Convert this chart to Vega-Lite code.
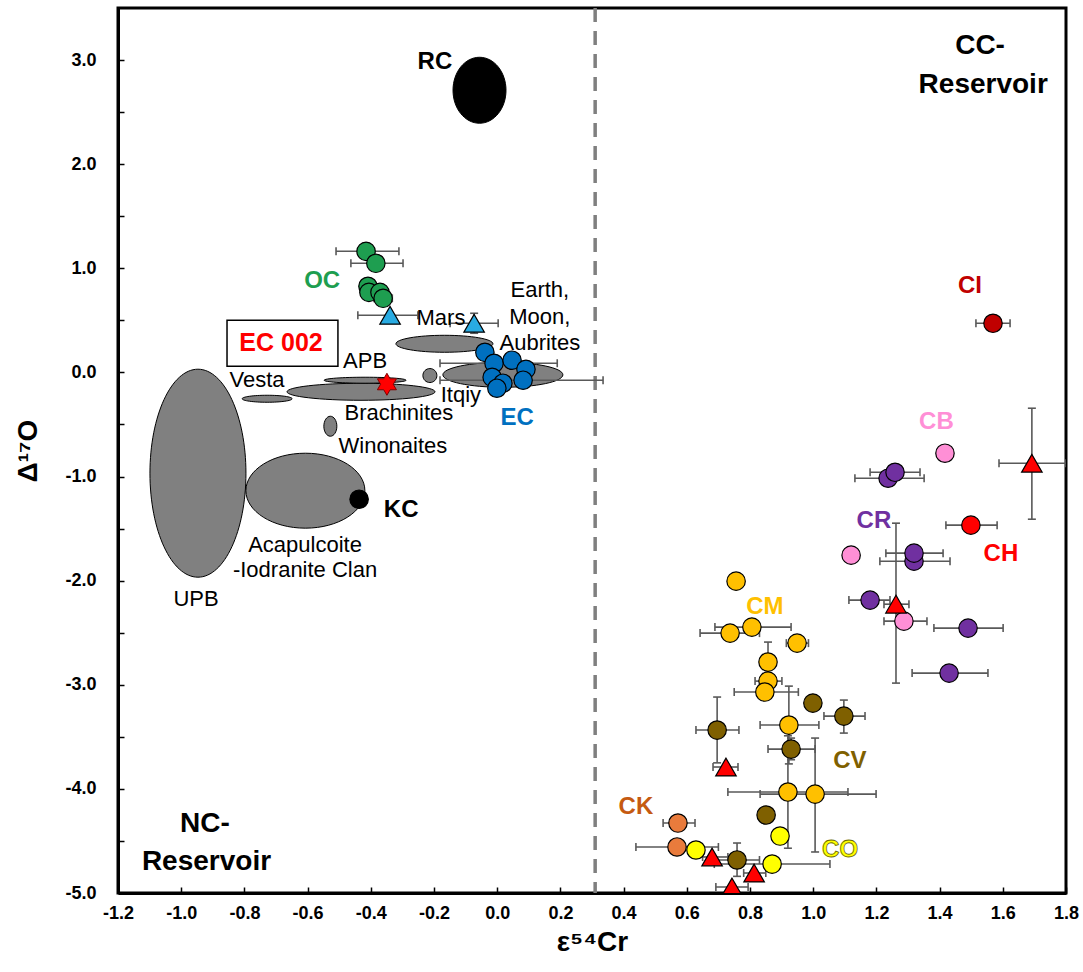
{
"$schema":"https://vega.github.io/schema/vega-lite/v6.json",
"autosize":{"type":"none"},
"width":948,"height":885,
"padding":{"left":118,"top":8,"right":17,"bottom":79},
"background":"white",
"datasets":{
"regions":[
{"name":"RC","x":-0.056,"y":2.71},
{"name":"UPB","x":-0.947,"y":-0.968},
{"name":"ACA","x":-0.607,"y":-1.136},
{"name":"Vesta","x":-0.728,"y":-0.253},
{"name":"Brach","x":-0.431,"y":-0.186},
{"name":"APB","x":-0.418,"y":-0.075},
{"name":"Win","x":-0.528,"y":-0.517},
{"name":"Itqiy","x":-0.213,"y":-0.03},
{"name":"Ang","x":-0.167,"y":0.275},
{"name":"EMA","x":0.018,"y":-0.023}
],
"divider":[{"x":0.31}],
"samples":[
{"g":"OC","m":"c","x":-0.415,"y":1.163,"xl":-0.510,"xh":-0.311},
{"g":"OC","m":"c","x":-0.384,"y":1.048,"xl":-0.463,"xh":-0.298},
{"g":"OC","m":"c","x":-0.409,"y":0.827},
{"g":"OC","m":"c","x":-0.406,"y":0.769},
{"g":"OC","m":"c","x":-0.371,"y":0.769},
{"g":"OC","m":"c","x":-0.361,"y":0.712,"xl":-0.39,"xh":-0.332},
{"g":"Planet","m":"t","x":-0.339,"y":0.549,"xl":-0.441,"xh":-0.251},
{"g":"Planet","m":"t","x":-0.073,"y":0.472,"xl":-0.149,"xh":0.003,"yl":0.376,"yh":0.568},
{"g":"EC","m":"c","x":-0.039,"y":0.193},
{"g":"EC","m":"c","x":-0.010,"y":0.088,"xl":-0.181,"xh":0.190},
{"g":"EC","m":"c","x":0.047,"y":0.117},
{"g":"EC","m":"c","x":0.091,"y":0.030},
{"g":"EC","m":"c","x":0.082,"y":-0.075,"xl":-0.181,"xh":0.335},
{"g":"EC","m":"c","x":-0.016,"y":-0.047},
{"g":"EC","m":"c","x":0.018,"y":-0.104},
{"g":"EC","m":"c","x":-0.001,"y":-0.152},
{"g":"KC","m":"c","x":-0.437,"y":-1.218,"xl":-0.462,"xh":-0.412},
{"g":"EC002","m":"s","x":-0.349,"y":-0.114},
{"g":"CI","m":"c","x":1.569,"y":0.472,"xl":1.515,"xh":1.623},
{"g":"CB","m":"c","x":1.417,"y":-0.776,"xl":1.398,"xh":1.436},
{"g":"CB","m":"c","x":1.120,"y":-1.755},
{"g":"CR","m":"c","x":1.237,"y":-1.016,"xl":1.132,"xh":1.351},
{"g":"CR","m":"c","x":1.259,"y":-0.959,"xl":1.180,"xh":1.338},
{"g":"CR","m":"c","x":1.319,"y":-1.813,"xl":1.211,"xh":1.433},
{"g":"CR","m":"c","x":1.319,"y":-1.736,"xl":1.230,"xh":1.411},
{"g":"CR","m":"c","x":1.180,"y":-2.187,"xl":1.113,"xh":1.243},
{"g":"CR","m":"c","x":1.490,"y":-2.456,"xl":1.382,"xh":1.601},
{"g":"CR","m":"c","x":1.430,"y":-2.888,"xl":1.313,"xh":1.553,"yl":-2.93,"yh":-2.84},
{"g":"CH","m":"c","x":1.499,"y":-1.467,"xl":1.420,"xh":1.582},
{"g":"U","m":"t","x":1.692,"y":-0.872,"xl":1.588,"xh":1.80,"yl":-1.410,"yh":-0.344},
{"g":"U","m":"t","x":1.262,"y":-2.226,"xl":1.224,"xh":1.303,"yl":-2.984,"yh":-1.448},
{"g":"CB","m":"c","x":1.287,"y":-2.389,"xl":1.224,"xh":1.360},
{"g":"CM","m":"c","x":0.756,"y":-2.005,"xl":0.735,"xh":0.78},
{"g":"CM","m":"c","x":0.806,"y":-2.446,"xl":0.689,"xh":0.930},
{"g":"CM","m":"c","x":0.737,"y":-2.504,"xl":0.642,"xh":0.83},
{"g":"CM","m":"c","x":0.949,"y":-2.600,"xl":0.915,"xh":0.985},
{"g":"CM","m":"c","x":0.857,"y":-2.965,"xl":0.816,"xh":0.901},
{"g":"CM","m":"c","x":0.857,"y":-2.782,"yl":-2.97,"yh":-2.59},
{"g":"CM","m":"c","x":0.847,"y":-3.070,"xl":0.750,"xh":0.953},
{"g":"CV","m":"c","x":0.999,"y":-3.176},
{"g":"CV","m":"c","x":1.097,"y":-3.301,"xl":1.034,"xh":1.164,"yl":-3.464,"yh":-3.147},
{"g":"CV","m":"c","x":0.696,"y":-3.435,"xl":0.629,"xh":0.765,"yl":-3.75,"yh":-3.118},
{"g":"CM","m":"c","x":0.923,"y":-3.387,"xl":0.832,"xh":1.018,"yl":-3.76,"yh":-3.013},
{"g":"CV","m":"c","x":0.930,"y":-3.618,"xl":0.857,"xh":1.006,"yl":-3.72,"yh":-3.512},
{"g":"U","m":"t","x":0.724,"y":-3.790,"xl":0.683,"xh":0.762},
{"g":"CM","m":"c","x":0.920,"y":-4.030,"xl":0.730,"xh":1.11,"yl":-4.57,"yh":-3.49},
{"g":"CM","m":"c","x":1.006,"y":-4.050,"xl":0.832,"xh":1.199,"yl":-4.606,"yh":-3.512},
{"g":"CV","m":"c","x":0.851,"y":-4.251},
{"g":"CO","m":"c","x":0.895,"y":-4.453},
{"g":"CK","m":"c","x":0.572,"y":-4.328,"xl":0.525,"xh":0.626},
{"g":"CK","m":"c","x":0.569,"y":-4.558,"xl":0.439,"xh":0.70},
{"g":"CO","m":"c","x":0.629,"y":-4.587},
{"g":"U","m":"t","x":0.680,"y":-4.654,"xl":0.65,"xh":0.73},
{"g":"CV","m":"c","x":0.759,"y":-4.683,"xl":0.69,"xh":0.83,"yl":-4.84,"yh":-4.52},
{"g":"CO","m":"c","x":0.870,"y":-4.722,"xl":0.687,"xh":1.053},
{"g":"U","m":"t","x":0.813,"y":-4.808,"xl":0.78,"xh":0.85},
{"g":"U","m":"t","x":0.743,"y":-4.942,"xl":0.692,"xh":0.794}
],
"labels":[
{"t":"RC","k":"g","g":"Black","x":-0.197,"y":2.91},
{"t":"KC","k":"g","g":"Black","x":-0.304,"y":-1.391},
{"t":"OC","k":"g","g":"OC","x":-0.554,"y":0.808},
{"t":"EC","k":"g","g":"EC","x":0.063,"y":-0.507},
{"t":"CI","k":"g","g":"CI","x":1.496,"y":0.76},
{"t":"CB","k":"g","g":"CB","x":1.39,"y":-0.546},
{"t":"CR","k":"g","g":"CR","x":1.192,"y":-1.496},
{"t":"CH","k":"g","g":"CH","x":1.594,"y":-1.813},
{"t":"CM","k":"g","g":"CM","x":0.847,"y":-2.322},
{"t":"CV","k":"g","g":"CV","x":1.116,"y":-3.80},
{"t":"CK","k":"g","g":"CKlab","x":0.439,"y":-4.242},
{"t":"CO","k":"co","x":1.085,"y":-4.654},
{"t":"EC 002","k":"ec","x":-0.684,"y":0.203},
{"t":"Mars","k":"p","x":-0.178,"y":0.453},
{"t":"APB","k":"p","x":-0.418,"y":0.040},
{"t":"Vesta","k":"p","x":-0.760,"y":-0.143},
{"t":"Brachinites","k":"p","x":-0.311,"y":-0.459},
{"t":"Itqiy","k":"p","x":-0.115,"y":-0.28},
{"t":"Winonaites","k":"p","x":-0.330,"y":-0.776},
{"t":"Earth,","k":"p","x":0.135,"y":0.721},
{"t":"Moon,","k":"p","x":0.135,"y":0.462},
{"t":"Aubrites","k":"p","x":0.135,"y":0.213},
{"t":"Acapulcoite","k":"p","x":-0.608,"y":-1.727},
{"t":"-Iodranite Clan","k":"p","x":-0.608,"y":-1.967},
{"t":"UPB","k":"p","x":-0.953,"y":-2.245},
{"t":"CC-","k":"r","x":1.528,"y":3.054},
{"t":"Reservoir","k":"r","x":1.538,"y":2.680},
{"t":"NC-","k":"r","x":-0.925,"y":-4.414},
{"t":"Reservoir","k":"r","x":-0.920,"y":-4.779}
]
},
"layer":[
{"data":{"name":"regions"},"transform":[{"filter":"datum.name == 'UPB'"}],
 "mark":{"type":"point","shape":"M-0.4615,0A0.4615,1,0,1,0,0.4615,0A0.4615,1,0,1,0,-0.4615,0Z","size":43264,"filled":true,"fill":"#808080","stroke":"#000","strokeWidth":1,"opacity":1},
 "encoding":{
  "x":{"field":"x","type":"quantitative","scale":{"domain":[-1.2,1.8],"nice":false,"zero":false},
   "axis":{"title":"ε⁵⁴Cr","values":[-1.2,-1.1,-1.0,-0.9,-0.8,-0.7,-0.6,-0.5,-0.4,-0.3,-0.2,-0.1,0,0.1,0.2,0.3,0.4,0.5,0.6,0.7,0.8,0.9,1.0,1.1,1.2,1.3,1.4,1.5,1.6,1.7,1.8],
   "labelFont":"Liberation Sans","labelFontSize":18,"labelFontWeight":"bold","labelPadding":17,"titlePadding":6,
   "labelExpr":"abs(round(datum.value * 10)) % 2 == 0 ? replace(format(datum.value, '.1f'), '−', '-') : ''"}},
  "y":{"field":"y","type":"quantitative","scale":{"domain":[-5,3.5],"nice":false,"zero":false},
   "axis":{"title":"Δ¹⁷O","values":[-5,-4.5,-4,-3.5,-3,-2.5,-2,-1.5,-1,-0.5,0,0.5,1,1.5,2,2.5,3],
   "labelFontSize":18,"labelPadding":28,"titlePadding":22,
   "labelExpr":"datum.value % 1 == 0 ? replace(format(datum.value, '.1f'), '−', '-') : ''"}}}},
{"data":{"name":"regions"},"transform":[{"filter":"datum.name == 'ACA'"}],
 "mark":{"type":"point","shape":"M-1,0A1,0.63,0,1,0,1,0A1,0.63,0,1,0,-1,0Z","size":14161,"filled":true,"fill":"#808080","stroke":"#000","strokeWidth":1,"opacity":1},
 "encoding":{"x":{"field":"x","type":"quantitative","scale":{"domain":[-1.2,1.8],"nice":false,"zero":false}},"y":{"field":"y","type":"quantitative","scale":{"domain":[-5,3.5],"nice":false,"zero":false}}}},
{"data":{"name":"regions"},"transform":[{"filter":"datum.name == 'Vesta'"}],
 "mark":{"type":"point","shape":"M-1,0A1,0.14,0,1,0,1,0A1,0.14,0,1,0,-1,0Z","size":2500,"filled":true,"fill":"#808080","stroke":"#000","strokeWidth":1,"opacity":1},
 "encoding":{"x":{"field":"x","type":"quantitative","scale":{"domain":[-1.2,1.8],"nice":false,"zero":false}},"y":{"field":"y","type":"quantitative","scale":{"domain":[-5,3.5],"nice":false,"zero":false}}}},
{"data":{"name":"regions"},"transform":[{"filter":"datum.name == 'Brach'"}],
 "mark":{"type":"point","shape":"M-1,0A1,0.115,0,1,0,1,0A1,0.115,0,1,0,-1,0Z","size":21904,"filled":true,"fill":"#808080","stroke":"#000","strokeWidth":1,"opacity":1},
 "encoding":{"x":{"field":"x","type":"quantitative","scale":{"domain":[-1.2,1.8],"nice":false,"zero":false}},"y":{"field":"y","type":"quantitative","scale":{"domain":[-5,3.5],"nice":false,"zero":false}}}},
{"data":{"name":"regions"},"transform":[{"filter":"datum.name == 'APB'"}],
 "mark":{"type":"point","shape":"M-1,0A1,0.073,0,1,0,1,0A1,0.073,0,1,0,-1,0Z","size":6724,"filled":true,"fill":"#808080","stroke":"#000","strokeWidth":1,"opacity":1},
 "encoding":{"x":{"field":"x","type":"quantitative","scale":{"domain":[-1.2,1.8],"nice":false,"zero":false}},"y":{"field":"y","type":"quantitative","scale":{"domain":[-5,3.5],"nice":false,"zero":false}}}},
{"data":{"name":"regions"},"transform":[{"filter":"datum.name == 'Win'"}],
 "mark":{"type":"point","shape":"M-0.65,0A0.65,1,0,1,0,0.65,0A0.65,1,0,1,0,-0.65,0Z","size":400,"filled":true,"fill":"#808080","stroke":"#000","strokeWidth":1,"opacity":1},
 "encoding":{"x":{"field":"x","type":"quantitative","scale":{"domain":[-1.2,1.8],"nice":false,"zero":false}},"y":{"field":"y","type":"quantitative","scale":{"domain":[-5,3.5],"nice":false,"zero":false}}}},
{"data":{"name":"regions"},"transform":[{"filter":"datum.name == 'Itqiy'"}],
 "mark":{"type":"point","shape":"M-1,0A1,1,0,1,0,1,0A1,1,0,1,0,-1,0Z","size":196,"filled":true,"fill":"#808080","stroke":"#000","strokeWidth":1,"opacity":1},
 "encoding":{"x":{"field":"x","type":"quantitative","scale":{"domain":[-1.2,1.8],"nice":false,"zero":false}},"y":{"field":"y","type":"quantitative","scale":{"domain":[-5,3.5],"nice":false,"zero":false}}}},
{"data":{"name":"regions"},"transform":[{"filter":"datum.name == 'Ang'"}],
 "mark":{"type":"point","shape":"M-1,0A1,0.175,0,1,0,1,0A1,0.175,0,1,0,-1,0Z","size":9409,"filled":true,"fill":"#808080","stroke":"#000","strokeWidth":1,"opacity":1},
 "encoding":{"x":{"field":"x","type":"quantitative","scale":{"domain":[-1.2,1.8],"nice":false,"zero":false}},"y":{"field":"y","type":"quantitative","scale":{"domain":[-5,3.5],"nice":false,"zero":false}}}},
{"data":{"name":"regions"},"transform":[{"filter":"datum.name == 'EMA'"}],
 "mark":{"type":"point","shape":"M-1,0A1,0.208,0,1,0,1,0A1,0.208,0,1,0,-1,0Z","size":14400,"filled":true,"fill":"#808080","stroke":"#000","strokeWidth":1,"opacity":1},
 "encoding":{"x":{"field":"x","type":"quantitative","scale":{"domain":[-1.2,1.8],"nice":false,"zero":false}},"y":{"field":"y","type":"quantitative","scale":{"domain":[-5,3.5],"nice":false,"zero":false}}}},
{"data":{"name":"regions"},"transform":[{"filter":"datum.name == 'RC'"}],
 "mark":{"type":"point","shape":"M-0.803,0A0.803,1,0,1,0,0.803,0A0.803,1,0,1,0,-0.803,0Z","size":4356,"filled":true,"fill":"#000","stroke":"#000","strokeWidth":1,"opacity":1},
 "encoding":{"x":{"field":"x","type":"quantitative","scale":{"domain":[-1.2,1.8],"nice":false,"zero":false}},"y":{"field":"y","type":"quantitative","scale":{"domain":[-5,3.5],"nice":false,"zero":false}}}},
{"data":{"name":"divider"},
 "mark":{"type":"rule","color":"#7F7F7F","strokeWidth":3.5,"strokeDash":[14,9]},
 "encoding":{"x":{"field":"x","type":"quantitative","scale":{"domain":[-1.2,1.8],"nice":false,"zero":false}}}},
{"data":{"values":[{"x":-0.855,"x2":-0.504,"y":0.501,"y2":0.059}]},
 "mark":{"type":"rect","fill":"#fff","stroke":"#000","strokeWidth":1.5},
 "encoding":{"x":{"field":"x","type":"quantitative","scale":{"domain":[-1.2,1.8],"nice":false,"zero":false}},"x2":{"field":"x2"},"y":{"field":"y","type":"quantitative","scale":{"domain":[-5,3.5],"nice":false,"zero":false}},"y2":{"field":"y2"}}},
{"data":{"name":"samples"},"transform":[{"filter":"isValid(datum.xl)"}],
 "mark":{"type":"rule","color":"#595959","strokeWidth":1.6,"clip":true},
 "encoding":{"x":{"field":"xl","type":"quantitative","scale":{"domain":[-1.2,1.8],"nice":false,"zero":false}},"x2":{"field":"xh"},"y":{"field":"y","type":"quantitative","scale":{"domain":[-5,3.5],"nice":false,"zero":false}}}},
{"data":{"name":"samples"},"transform":[{"filter":"isValid(datum.xl)"}],
 "mark":{"type":"tick","orient":"vertical","color":"#595959","size":8,"thickness":1.6,"opacity":1,"clip":true},
 "encoding":{"x":{"field":"xl","type":"quantitative","scale":{"domain":[-1.2,1.8],"nice":false,"zero":false}},"y":{"field":"y","type":"quantitative","scale":{"domain":[-5,3.5],"nice":false,"zero":false}}}},
{"data":{"name":"samples"},"transform":[{"filter":"isValid(datum.xh)"}],
 "mark":{"type":"tick","orient":"vertical","color":"#595959","size":8,"thickness":1.6,"opacity":1,"clip":true},
 "encoding":{"x":{"field":"xh","type":"quantitative","scale":{"domain":[-1.2,1.8],"nice":false,"zero":false}},"y":{"field":"y","type":"quantitative","scale":{"domain":[-5,3.5],"nice":false,"zero":false}}}},
{"data":{"name":"samples"},"transform":[{"filter":"isValid(datum.yl)"}],
 "mark":{"type":"rule","color":"#595959","strokeWidth":1.6,"clip":true},
 "encoding":{"x":{"field":"x","type":"quantitative","scale":{"domain":[-1.2,1.8],"nice":false,"zero":false}},"y":{"field":"yl","type":"quantitative","scale":{"domain":[-5,3.5],"nice":false,"zero":false}},"y2":{"field":"yh"}}},
{"data":{"name":"samples"},"transform":[{"filter":"isValid(datum.yl)"}],
 "mark":{"type":"tick","orient":"horizontal","color":"#595959","size":8,"thickness":1.6,"opacity":1,"clip":true},
 "encoding":{"x":{"field":"x","type":"quantitative","scale":{"domain":[-1.2,1.8],"nice":false,"zero":false}},"y":{"field":"yl","type":"quantitative","scale":{"domain":[-5,3.5],"nice":false,"zero":false}}}},
{"data":{"name":"samples"},"transform":[{"filter":"isValid(datum.yh)"}],
 "mark":{"type":"tick","orient":"horizontal","color":"#595959","size":8,"thickness":1.6,"opacity":1,"clip":true},
 "encoding":{"x":{"field":"x","type":"quantitative","scale":{"domain":[-1.2,1.8],"nice":false,"zero":false}},"y":{"field":"yh","type":"quantitative","scale":{"domain":[-5,3.5],"nice":false,"zero":false}}}},
{"data":{"name":"samples"},"transform":[{"filter":"datum.m == 'c'"}],
 "mark":{"type":"point","shape":"circle","size":340,"filled":true,"stroke":"#000","strokeWidth":1.2,"opacity":1},
 "encoding":{"x":{"field":"x","type":"quantitative","scale":{"domain":[-1.2,1.8],"nice":false,"zero":false}},"y":{"field":"y","type":"quantitative","scale":{"domain":[-5,3.5],"nice":false,"zero":false}},
  "fill":{"field":"g","type":"nominal","legend":null,"scale":{"domain":["OC","Planet","EC","KC","EC002","CI","CB","CR","CH","CM","CV","CO","CK","U","CKlab","Black"],"range":["#1E9E50","#29ABE2","#0070C0","#000000","#FF0000","#C00000","#FF8FD6","#7030A0","#FF0000","#FFC000","#7F6000","#FFFF00","#E97B3C","#FF0000","#C55A11","#000000"]}}}},
{"data":{"name":"samples"},"transform":[{"filter":"datum.m == 't'"}],
 "mark":{"type":"point","shape":"triangle-up","size":420,"filled":true,"stroke":"#000","strokeWidth":1.2,"opacity":1,"clip":true},
 "encoding":{"x":{"field":"x","type":"quantitative","scale":{"domain":[-1.2,1.8],"nice":false,"zero":false}},"y":{"field":"y","type":"quantitative","scale":{"domain":[-5,3.5],"nice":false,"zero":false}},
  "fill":{"field":"g","type":"nominal","legend":null,"scale":{"domain":["OC","Planet","EC","KC","EC002","CI","CB","CR","CH","CM","CV","CO","CK","U","CKlab","Black"],"range":["#1E9E50","#29ABE2","#0070C0","#000000","#FF0000","#C00000","#FF8FD6","#7030A0","#FF0000","#FFC000","#7F6000","#FFFF00","#E97B3C","#FF0000","#C55A11","#000000"]}}}},
{"data":{"name":"samples"},"transform":[{"filter":"datum.m == 's'"}],
 "mark":{"type":"point","shape":"M0,-1L0.289,-0.5L0.866,-0.5L0.577,0L0.866,0.5L0.289,0.5L0,1L-0.289,0.5L-0.866,0.5L-0.577,0L-0.866,-0.5L-0.289,-0.5Z","size":484,"filled":true,"fill":"#FF0000","stroke":"#7F0000","strokeWidth":1,"opacity":1},
 "encoding":{"x":{"field":"x","type":"quantitative","scale":{"domain":[-1.2,1.8],"nice":false,"zero":false}},"y":{"field":"y","type":"quantitative","scale":{"domain":[-5,3.5],"nice":false,"zero":false}}}},
{"data":{"name":"labels"},"transform":[{"filter":"datum.k == 'g'"}],
 "mark":{"type":"text","font":"Liberation Sans","fontWeight":"bold","fontSize":24,"align":"center","baseline":"alphabetic"},
 "encoding":{"x":{"field":"x","type":"quantitative","scale":{"domain":[-1.2,1.8],"nice":false,"zero":false}},"y":{"field":"y","type":"quantitative","scale":{"domain":[-5,3.5],"nice":false,"zero":false}},"text":{"field":"t"},
  "fill":{"field":"g","type":"nominal","legend":null,"scale":{"domain":["OC","Planet","EC","KC","EC002","CI","CB","CR","CH","CM","CV","CO","CK","U","CKlab","Black"],"range":["#1E9E50","#29ABE2","#0070C0","#000000","#FF0000","#C00000","#FF8FD6","#7030A0","#FF0000","#FFC000","#7F6000","#FFFF00","#E97B3C","#FF0000","#C55A11","#000000"]}}}},
{"data":{"name":"labels"},"transform":[{"filter":"datum.k == 'co'"}],
 "mark":{"type":"text","font":"Liberation Sans","fontWeight":"bold","fontSize":24,"align":"center","baseline":"alphabetic","fill":"#FFFF00","stroke":"#6B6B00","strokeWidth":0.8},
 "encoding":{"x":{"field":"x","type":"quantitative","scale":{"domain":[-1.2,1.8],"nice":false,"zero":false}},"y":{"field":"y","type":"quantitative","scale":{"domain":[-5,3.5],"nice":false,"zero":false}},"text":{"field":"t"}}},
{"data":{"name":"labels"},"transform":[{"filter":"datum.k == 'ec'"}],
 "mark":{"type":"text","font":"Liberation Sans","fontWeight":"bold","fontSize":25,"align":"center","baseline":"alphabetic","fill":"#FF0000"},
 "encoding":{"x":{"field":"x","type":"quantitative","scale":{"domain":[-1.2,1.8],"nice":false,"zero":false}},"y":{"field":"y","type":"quantitative","scale":{"domain":[-5,3.5],"nice":false,"zero":false}},"text":{"field":"t"}}},
{"data":{"name":"labels"},"transform":[{"filter":"datum.k == 'p'"}],
 "mark":{"type":"text","font":"Liberation Sans","fontSize":22,"align":"center","baseline":"alphabetic","fill":"#000"},
 "encoding":{"x":{"field":"x","type":"quantitative","scale":{"domain":[-1.2,1.8],"nice":false,"zero":false}},"y":{"field":"y","type":"quantitative","scale":{"domain":[-5,3.5],"nice":false,"zero":false}},"text":{"field":"t"}}},
{"data":{"name":"labels"},"transform":[{"filter":"datum.k == 'r'"}],
 "mark":{"type":"text","font":"Liberation Sans","fontWeight":"bold","fontSize":28,"align":"center","baseline":"alphabetic","fill":"#000"},
 "encoding":{"x":{"field":"x","type":"quantitative","scale":{"domain":[-1.2,1.8],"nice":false,"zero":false}},"y":{"field":"y","type":"quantitative","scale":{"domain":[-5,3.5],"nice":false,"zero":false}},"text":{"field":"t"}}}
],
"config":{
 "view":{"stroke":"#000","strokeWidth":3},
 "axis":{"grid":false,"domainColor":"#000","domainWidth":3,"tickColor":"#000","tickWidth":1.5,"tickSize":-6,"labelColor":"#000","labelFont":"Liberation Sans","labelFontWeight":"bold","labelFontSize":18,"labelOverlap":false,"labelFlush":false,"titleFont":"Liberation Sans","titleFontWeight":"bold","titleFontSize":28,"titleColor":"#000"}
}
}
